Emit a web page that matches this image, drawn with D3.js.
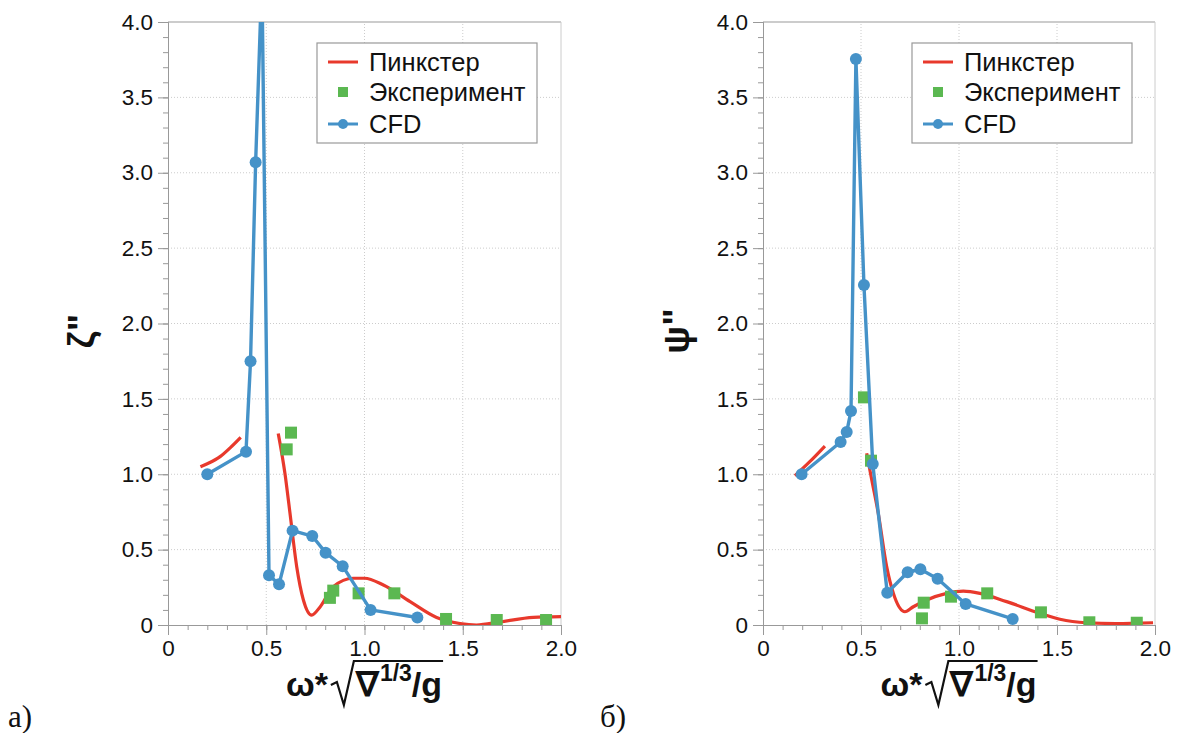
<!DOCTYPE html>
<html>
<head>
<meta charset="utf-8">
<script src="https://cdn.jsdelivr.net/npm/d3@7"></script>
<style>
  body { margin: 0; background: #fff; }
  svg { font-family: "Liberation Sans", Arial, sans-serif; }
</style>
</head>
<body>
<svg id="chart" width="1182" height="733"></svg>
<script>
const xMajor = [0, 0.5, 1.0, 1.5, 2.0];
const yMajor = [0, 0.5, 1.0, 1.5, 2.0, 2.5, 3.0, 3.5, 4.0];
const legendNames = ['Пинкстер', 'Эксперимент', 'CFD'];

// а) heave  zeta''
const heavePinksterA = [[0.165, 1.05], [0.2, 1.07], [0.265, 1.117], [0.32, 1.18], [0.37, 1.245]];
const heavePinksterB = [[0.561, 1.27], [0.595, 1.006], [0.621, 0.74], [0.655, 0.387], [0.689, 0.166],
  [0.731, 0.066], [0.774, 0.12], [0.841, 0.254], [0.943, 0.31], [1.0, 0.31], [1.096, 0.265],
  [1.232, 0.155], [1.367, 0.05], [1.486, 0.01], [1.57, 0.0], [1.69, 0.02], [1.859, 0.05], [2.0, 0.055]];
const heaveExp = [[0.604, 1.165], [0.626, 1.276], [0.824, 0.18], [0.841, 0.228], [0.97, 0.21],
  [1.152, 0.21], [1.415, 0.04], [1.673, 0.033], [1.924, 0.033]];
const heaveCfd = [[0.2, 1.0], [0.397, 1.15], [0.42, 1.75], [0.446, 3.07], [0.478, 4.3], [0.514, 0.33],
  [0.565, 0.27], [0.634, 0.626], [0.734, 0.59], [0.802, 0.48], [0.889, 0.39], [1.031, 0.1], [1.269, 0.05]];

// б) pitch  psi''
const pitchPinksterA = [[0.163, 0.99], [0.24, 1.085], [0.316, 1.187]];
const pitchPinksterB = [[0.529, 1.139], [0.555, 0.962], [0.588, 0.741], [0.631, 0.387], [0.665, 0.21],
  [0.724, 0.088], [0.767, 0.121], [0.835, 0.166], [0.937, 0.21], [1.022, 0.225], [1.107, 0.21],
  [1.243, 0.155], [1.413, 0.078], [1.515, 0.038], [1.651, 0.015], [1.8, 0.01], [1.99, 0.015]];
const pitchExp = [[0.515, 1.51], [0.551, 1.09], [0.82, 0.148], [0.811, 0.044], [0.959, 0.188],
  [1.144, 0.21], [1.418, 0.084], [1.665, 0.018], [1.907, 0.015]];
const pitchCfd = [[0.197, 1.0], [0.396, 1.214], [0.427, 1.28], [0.449, 1.42], [0.474, 3.755], [0.515, 2.255],
  [0.56, 1.068], [0.634, 0.214], [0.738, 0.35], [0.803, 0.37], [0.891, 0.307], [1.034, 0.14], [1.274, 0.04]];

const RED = '#e8392c', GREEN = '#5bb851', BLUE = '#4592c8';

const svg = d3.select('#chart');

function drawPanel(cfg) {
  const x = d3.scaleLinear().domain([0, 2]).range([cfg.x0, cfg.x1]);
  const y = d3.scaleLinear().domain([0, 4]).range([625, 22]);
  const g = svg.append('g');

  // grid
  g.append('g').selectAll('line').data(xMajor.slice(1, -1)).join('line')
    .attr('x1', d => x(d)).attr('x2', d => x(d)).attr('y1', y(0)).attr('y2', y(4))
    .attr('stroke', '#ccc').attr('stroke-dasharray', '1,2');
  g.append('g').selectAll('line').data(yMajor.slice(1, -1)).join('line')
    .attr('y1', d => y(d)).attr('y2', d => y(d)).attr('x1', x(0)).attr('x2', x(2))
    .attr('stroke', '#ccc').attr('stroke-dasharray', '1,2');

  // frame top / right
  g.append('line').attr('x1', x(0)).attr('x2', x(2)).attr('y1', y(4)).attr('y2', y(4)).attr('stroke', '#999');
  g.append('line').attr('x1', x(2)).attr('x2', x(2)).attr('y1', y(4)).attr('y2', y(0)).attr('stroke', '#ccc');

  // minor ticks
  const minor = d3.range(0, 41).map(i => i / 10);
  const minorX = d3.range(0, 21).map(i => i / 10);
  g.append('g').attr('transform', `translate(${x(0)},0)`)
    .call(d3.axisLeft(y).tickValues(minor).tickSize(5).tickFormat(''))
    .call(a => a.selectAll('line,path').attr('stroke', '#999'));
  g.append('g').attr('transform', `translate(0,${y(0)})`)
    .call(d3.axisBottom(x).tickValues(minorX).tickSize(5).tickFormat(''))
    .call(a => a.selectAll('line,path').attr('stroke', '#999'));

  // major axes
  const fmt = d => d === 0 ? '0' : d3.format('.1f')(d);
  g.append('g').attr('transform', `translate(${x(0)},0)`)
    .call(d3.axisLeft(y).tickValues(yMajor).tickSize(10).tickPadding(5).tickFormat(fmt))
    .call(a => a.selectAll('line,path').attr('stroke', '#999'))
    .call(a => a.selectAll('text').attr('font-size', 22.5).attr('fill', '#111').attr('font-family', null));
  g.append('g').attr('transform', `translate(0,${y(0)})`)
    .call(d3.axisBottom(x).tickValues(xMajor).tickSize(10).tickPadding(5).tickFormat(fmt))
    .call(a => a.selectAll('line,path').attr('stroke', '#999'))
    .call(a => a.selectAll('text').attr('font-size', 22.5).attr('fill', '#111').attr('font-family', null));

  // clip
  const clipId = 'clip' + cfg.key;
  svg.append('clipPath').attr('id', clipId).append('rect')
    .attr('x', x(0)).attr('y', y(4)).attr('width', x(2) - x(0)).attr('height', y(0) - y(4));
  const plot = g.append('g').attr('clip-path', `url(#${clipId})`);

  const smooth = d3.line().x(d => x(d[0])).y(d => y(d[1])).curve(d3.curveMonotoneX);
  const straight = d3.line().x(d => x(d[0])).y(d => y(d[1]));

  [cfg.pinkA, cfg.pinkB].forEach(seg => {
    plot.append('path').attr('d', smooth(seg)).attr('fill', 'none')
      .attr('stroke', RED).attr('stroke-width', 3.2);
  });

  plot.append('g').selectAll('rect').data(cfg.exp).join('rect')
    .attr('x', d => x(d[0]) - 6).attr('y', d => y(d[1]) - 6)
    .attr('width', 12).attr('height', 12).attr('fill', GREEN);

  plot.append('path').attr('d', straight(cfg.cfd)).attr('fill', 'none')
    .attr('stroke', BLUE).attr('stroke-width', 3.4).attr('stroke-linejoin', 'round');
  plot.append('g').selectAll('circle').data(cfg.cfd).join('circle')
    .attr('cx', d => x(d[0])).attr('cy', d => y(d[1])).attr('r', 6).attr('fill', BLUE);

  // legend
  const lx = x(0) + 149, ly = 43;
  const leg = g.append('g').attr('transform', `translate(${lx},${ly})`);
  leg.append('rect').attr('width', 220).attr('height', 100)
    .attr('fill', '#fff').attr('stroke', '#999').attr('stroke-width', 1.2);
  const rows = [19, 49, 81];
  leg.append('line').attr('x1', 11).attr('x2', 41).attr('y1', rows[0]).attr('y2', rows[0])
    .attr('stroke', RED).attr('stroke-width', 3);
  leg.append('rect').attr('x', 21).attr('y', rows[1] - 5).attr('width', 10).attr('height', 10).attr('fill', GREEN);
  leg.append('line').attr('x1', 11).attr('x2', 41).attr('y1', rows[2]).attr('y2', rows[2])
    .attr('stroke', BLUE).attr('stroke-width', 3);
  leg.append('circle').attr('cx', 26).attr('cy', rows[2]).attr('r', 5).attr('fill', BLUE);
  leg.selectAll('text.name').data(legendNames).join('text').attr('class', 'name')
    .attr('x', 52).attr('y', (d, i) => rows[i] + 9)
    .attr('font-size', 25.5).attr('fill', '#111').text(d => d);

  // y title
  g.append('text')
    .attr('transform', `translate(${x(0) - 74},331) rotate(-90)`)
    .attr('text-anchor', 'middle').attr('font-size', 37).attr('font-weight', 'bold')
    .attr('fill', '#111').text(cfg.yTitle);

  // x title  w*sqrt(nabla^(1/3)/g)
  const base = 696;
  const tg = g.append('g');
  const t1 = tg.append('text').attr('x', 0).attr('y', base)
    .attr('font-size', 34).attr('font-weight', 'bold').attr('fill', '#111').text('ω*');
  const w1 = t1.node().getComputedTextLength();
  const rx = w1 + 3;
  const t2 = tg.append('text').attr('x', rx + 25).attr('y', base)
    .attr('font-size', 34).attr('font-weight', 'bold').attr('fill', '#111');
  t2.append('tspan').text('∇');
  t2.append('tspan').attr('dx', 1).attr('dy', -15).attr('font-size', 23).text('1/3');
  t2.append('tspan').attr('dy', 15).text('/g');
  const w2 = t2.node().getComputedTextLength();
  tg.append('path')
    .attr('d', `M${rx},685 L${rx + 6},682 L${rx + 13},705 L${rx + 23},661 L${rx + 27 + w2},661`)
    .attr('fill', 'none').attr('stroke', '#111').attr('stroke-width', 2.2);
  const total = rx + 27 + w2;
  tg.attr('transform', `translate(${(x(0) + x(2)) / 2 - total / 2},0)`);

  // panel label
  g.append('text').attr('x', cfg.labelX).attr('y', 727)
    .attr('font-family', '"Liberation Serif", "Times New Roman", serif')
    .attr('font-size', 31).attr('fill', '#111').text(cfg.label);
}

drawPanel({ key: 'a', x0: 168, x1: 561, pinkA: heavePinksterA, pinkB: heavePinksterB,
  exp: heaveExp, cfd: heaveCfd, yTitle: 'ζ"', label: 'а)', labelX: 8 });
drawPanel({ key: 'b', x0: 763, x1: 1155, pinkA: pitchPinksterA, pinkB: pitchPinksterB,
  exp: pitchExp, cfd: pitchCfd, yTitle: 'ψ"', label: 'б)', labelX: 600 });
</script>
</body>
</html>
